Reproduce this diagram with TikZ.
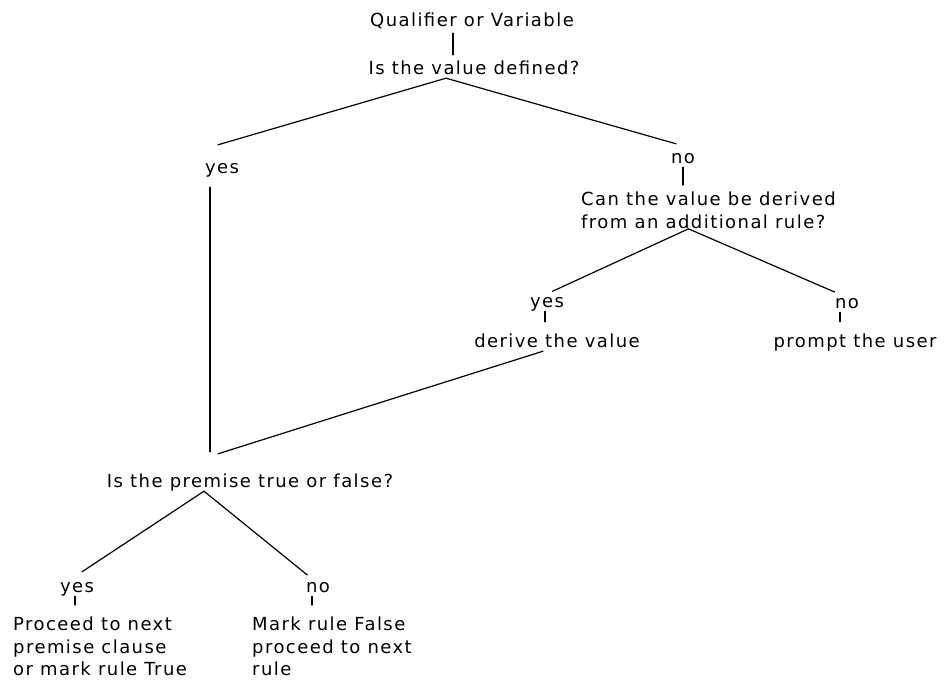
\documentclass[tikz,border=0pt]{standalone}
\usepackage{fontspec}
\setmainfont{DejaVu Sans}[LetterSpace=8]
\usetikzlibrary{positioning}

\begin{document}
\begin{tikzpicture}[
  x=1pt, y=-1pt,
  font=\fontsize{18}{22.5}\selectfont,
  t/.style={inner sep=0pt, text height=13pt, text depth=4pt, anchor=base},
  m/.style={inner sep=0pt, align=left, anchor=north west},
  link/.style={line width=1.2pt, line cap=round}
]
\useasboundingbox (0,0) rectangle (947,680);
% question on top
\node[t] (qual) at (472,27) {Qualifier or Variable};
\node[t] (defined) at (474,74) {Is the value defined?};
\node[t] (yes1) at (222,173) {yes};
\node[t] (no1) at (683,163) {no};
\node[m] (derivable) at (581,192) {Can the value be derived\\from an additional rule?};
\node[t] (yes2) at (547,307) {yes};
\node[t] (no2) at (847,308) {no};
\node[t] (derive) at (557,347) {derive the value};
\node[t] (prompt) at (855,347) {prompt the user};
% premise part
\node[t] (premise) at (250,487) {Is the premise true or false?};
\node[t] (yes3) at (77,592) {yes};
\node[t] (no3) at (318,592) {no};
\node[m] (proceed) at (13,617) {Proceed to next\\premise clause\\or mark rule True};
\node[m] (mark) at (252,617) {Mark rule False\\proceed to next\\rule};

\draw[link] ([xshift=-19pt,yshift=-2pt]qual.south) -- ([xshift=-21pt,yshift=6pt]defined.north);
\draw[link] ([xshift=-28pt]defined.south) -- ([xshift=-4pt,yshift=15pt]yes1.north);
\draw[link] ([xshift=-28pt]defined.south) -- ([xshift=-7pt,yshift=6pt]no1.north);
\draw[link, shorten >=7pt] (no1.south) -- (no1.south |- derivable.north);
\draw[link, shorten >=22pt] ([xshift=-12pt,yshift=-10pt]yes1.south) -- ([xshift=-12pt]yes1.south |- premise.north);
\draw[link, shorten >=6pt] ([xshift=-20pt]derivable.south) -- (yes2.north);
\draw[link, shorten >=7pt] ([xshift=-20pt]derivable.south) -- ([xshift=-6pt]no2.north);
\draw[link, shorten >=12pt] ([xshift=-2pt]yes2.south) -- ([xshift=-2pt]yes2.south |- derive.north);
\draw[link, shorten >=12pt] ([xshift=-7pt]no2.south) -- ([xshift=-7pt]no2.south |- prompt.north);
\draw[link] ([xshift=-14pt]derive.south) -- ([xshift=-32pt,yshift=20pt]premise.north);
\draw[link] ([xshift=-46pt]premise.south) -- ([xshift=5pt,yshift=7pt]yes3.north);
\draw[link, shorten >=6pt] ([xshift=-46pt]premise.south) -- ([xshift=-6pt]no3.north);
\draw[link, shorten >=12pt] ([xshift=-2pt]yes3.south) -- ([xshift=-2pt]yes3.south |- proceed.north);
\draw[link, shorten >=12pt] ([xshift=-6pt]no3.south) -- ([xshift=-6pt]no3.south |- mark.north);
\end{tikzpicture}
\end{document}
